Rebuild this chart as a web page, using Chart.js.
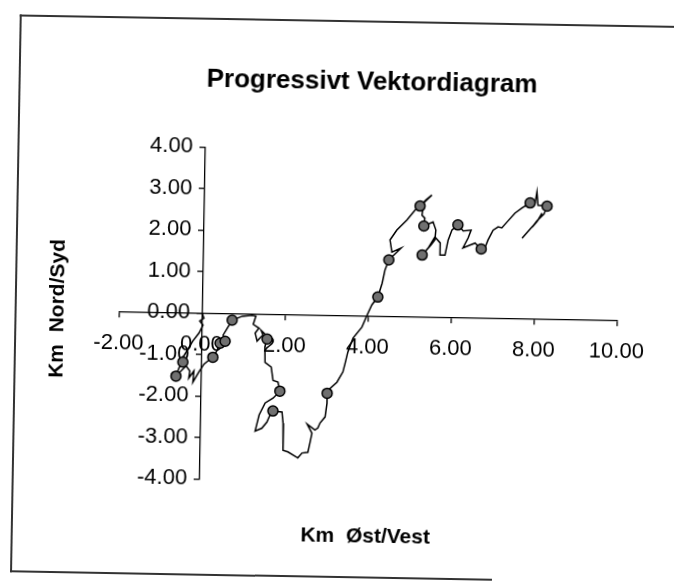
<!DOCTYPE html>
<html>
<head>
<meta charset="utf-8">
<script src="https://cdn.jsdelivr.net/npm/chart.js@4/dist/chart.umd.min.js"></script>
<style>
  html, body { margin: 0; padding: 0; background: #fff; overflow: hidden; }
  #page { position: absolute; left: 0; top: 0; width: 674px; height: 581px; transform: rotate(1deg); transform-origin: 337px 290px; }
  #frame { position: absolute; left: 15px; top: 20px; width: 720px; height: 556px; border-left: 2px solid #333; border-top: 2px solid #333; }
  #frameBottom { position: absolute; left: 15px; top: 576px; width: 482px; height: 0; border-top: 2px solid #333; }
  canvas { position: absolute; left: 0; top: 0; }
</style>
</head>
<body>
<div id="page">
  <div id="frame"></div>
  <div id="frameBottom"></div>
  <canvas id="myChart" width="674" height="581"></canvas>
</div>
<script>
// track (km east / km north)
const eastKm = [0, 0.05, -0.05, 0.03, -0.06, -0.21, -0.32, -0.42, -0.44, -0.53, -0.60, -0.46, -0.36, -0.27, -0.29, -0.17, -0.19, -0.05, 0.07, 0.19,
  0.28, 0.38, 0.45, 0.57, 0.52, 0.63, 0.73, 0.97, 1.21, 1.30, 1.24, 1.38, 1.29, 1.34, 1.48, 1.43, 1.53, 1.58, 1.53, 1.54,
  1.69, 1.74, 1.86, 1.91, 1.75, 1.56, 1.42, 1.33, 1.49, 1.61, 1.68, 1.75, 1.97, 2.00, 2.01, 2.13, 2.37, 2.47, 2.61, 2.66,
  2.70, 2.58, 2.77, 2.84, 2.89, 3.01, 3.05, 3.05, 3.12, 3.28, 3.42, 3.47, 3.53, 3.65, 3.86, 3.98, 4.09, 4.23, 4.33, 4.39,
  4.48, 4.60, 4.77, 4.55, 4.50, 4.66, 4.90, 5.09, 5.21, 5.35, 5.49, 5.30, 5.26, 5.33, 5.31, 5.53, 5.60, 5.58, 5.49, 5.28,
  5.42, 5.58, 5.71, 5.71, 5.83, 5.90, 5.99, 6.13, 6.26, 6.45, 6.38, 6.26, 6.43, 6.55, 6.70, 6.79, 6.86, 6.98, 7.10, 7.19,
  7.31, 7.50, 7.67, 7.86, 7.98, 8.02, 8.05, 8.27, 8.20, 8.03, 7.92, 8.03, 8.15, 8.06, 7.87, 7.68]
const northKm = [0, -0.12, -0.19, -0.29, -0.48, -0.68, -0.87, -1.04, -1.19, -1.33, -1.53, -1.38, -1.28, -1.40, -1.57, -1.40, -1.67, -1.42, -1.23, -1.13,
  -1.06, -0.89, -0.72, -0.67, -0.52, -0.33, -0.16, -0.06, -0.03, -0.05, -0.25, -0.34, -0.46, -0.65, -0.50, -0.39, -0.48, -0.60, -0.79, -1.16,
  -1.27, -1.59, -1.63, -1.85, -2.02, -2.14, -2.43, -2.82, -2.75, -2.60, -2.43, -2.33, -2.35, -2.62, -3.27, -3.31, -3.45, -3.33, -3.31, -3.06,
  -2.85, -2.63, -2.77, -2.72, -2.60, -2.45, -2.12, -1.88, -1.76, -1.61, -1.36, -1.15, -0.88, -0.54, -0.27, 0.02, 0.27, 0.46, 0.80, 1.11,
  1.36, 1.48, 1.65, 1.55, 1.84, 2.08, 2.33, 2.57, 2.67, 2.82, 2.94, 2.75, 2.45, 2.38, 2.19, 2.29, 2.10, 1.86, 1.74, 1.49,
  1.66, 1.93, 1.79, 1.50, 1.50, 1.86, 2.11, 2.23, 2.09, 2.11, 1.92, 1.68, 1.75, 1.80, 1.66, 1.69, 1.88, 2.12, 2.20, 2.18,
  2.32, 2.54, 2.67, 2.79, 2.79, 3.06, 2.74, 2.72, 2.53, 2.36, 2.21, 2.34, 2.55, 2.38, 2.16, 1.94]

// daily markers on the track
const markEast = [-0.44, -0.60, 0.28, 0.45, 0.57, 0.73, 1.58, 1.91, 1.75, 3.05, 4.23, 4.48, 5.21, 5.31, 5.28, 6.13, 6.70, 7.86, 8.27]
const markNorth = [-1.19, -1.53, -1.06, -0.72, -0.67, -0.16, -0.60, -1.85, -2.33, -1.88, 0.46, 1.36, 2.67, 2.19, 1.49, 2.23, 1.66, 2.79, 2.72]

const xTicks = [-2, 0, 2, 4, 6, 8, 10]
const yTicks = [-4, -3, -2, -1, 0, 1, 2, 3, 4]

const chartTitle = 'Progressivt Vektordiagram'
const xTitle = 'Km  Øst/Vest'
const yTitle = 'Km  Nord/Syd'

const FONT = "'Liberation Sans', Arial, sans-serif"

const track = eastKm.map((x, i) => ({ x: x, y: northKm[i] }))
const marks = markEast.map((x, i) => ({ x: x, y: markNorth[i] }))

// axis titles drawn by hand, since the axes sit at the origin
const axisTitles = {
  id: 'axisTitles',
  afterDraw(chart) {
    const ctx = chart.ctx
    const a = chart.chartArea
    ctx.save()
    ctx.fillStyle = '#000'
    ctx.font = 'bold 21px ' + FONT
    ctx.textAlign = 'center'
    ctx.textBaseline = 'middle'
    ctx.fillText(xTitle, (a.left + a.right) / 2 + 1, a.bottom + 55)
    ctx.translate(a.left - 61, (a.top + a.bottom) / 2 - 2)
    ctx.rotate(-Math.PI / 2)
    ctx.fillText(yTitle, 0, 0)
    ctx.restore()
  }
}

// a y axis placed at x=0 puts its labels flush on the line; move them left a bit
const yLabelGap = {
  id: 'yLabelGap',
  beforeDraw(chart) {
    const items = chart.scales.y.getLabelItems(chart.chartArea)
    if (items._moved) return
    items.forEach(function (it) {
      it.options.translation[0] -= 12
    })
    items._moved = true
  }
}

const config = {
  type: 'scatter',
  data: {
    datasets: [
      {
        label: 'markers',
        data: marks,
        showLine: false,
        pointRadius: 5,
        pointBackgroundColor: '#707070',
        pointBorderColor: '#000',
        pointBorderWidth: 1.5,
        order: 0
      },
      {
        label: 'track',
        data: track,
        showLine: true,
        borderColor: '#000',
        borderWidth: 1.5,
        pointRadius: 0,
        tension: 0,
        order: 1
      }
    ]
  },
  options: {
    responsive: false,
    animation: false,
    layout: { padding: { left: 119.4, right: 56.6, top: 20, bottom: 99.6 } },
    plugins: {
      legend: { display: false },
      tooltip: { enabled: false },
      title: {
        display: true,
        text: chartTitle,
        color: '#000',
        font: { family: FONT, size: 26, weight: 'bold' },
        padding: { top: 46, bottom: 52.2 }
      }
    },
    scales: {
      x: {
        type: 'linear',
        min: -2,
        max: 10,
        position: { y: 0 },
        afterBuildTicks: (s) => { s.ticks = xTicks.map(v => ({ value: v })) },
        ticks: {
          color: '#000',
          font: { family: FONT, size: 22 },
          padding: 13,
          autoSkip: false,
          maxRotation: 0,
          callback: (v) => v.toFixed(2)
        },
        grid: { drawOnChartArea: false, drawTicks: true, tickLength: 5, color: '#000', lineWidth: 1.3 },
        border: { display: true, color: '#000', width: 1.3 }
      },
      y: {
        type: 'linear',
        min: -4,
        max: 4,
        position: { x: 0 },
        afterBuildTicks: (s) => { s.ticks = yTicks.map(v => ({ value: v })) },
        ticks: {
          color: '#000',
          font: { family: FONT, size: 22 },
          autoSkip: false,
          callback: (v) => v.toFixed(2)
        },
        grid: { drawOnChartArea: false, drawTicks: true, tickLength: 5, color: '#000', lineWidth: 1.3 },
        border: { display: true, color: '#000', width: 1.3 }
      }
    }
  },
  plugins: [axisTitles, yLabelGap]
}

const myChart = new Chart(document.getElementById('myChart'), config)
</script>
</body>
</html>
